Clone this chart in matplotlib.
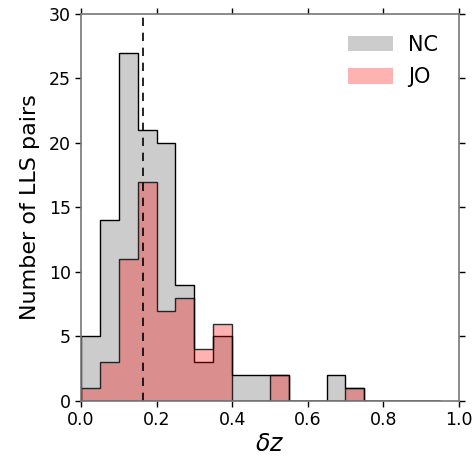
import numpy as np
import matplotlib
matplotlib.use("Agg")
import matplotlib.pyplot as plt

bin_edges = [round(0.05 * i, 2) for i in range(20)]  # 0.00 .. 0.95
nc_counts = [5, 14, 27, 21, 20, 9, 3, 5, 2, 2, 2, 0, 0, 2, 1, 0, 0, 0, 0]
jo_counts = [1, 3, 11, 17, 7, 8, 4, 6, 0, 0, 2, 0, 0, 0, 1, 0, 0, 0, 0]
median_dz = 0.164

fig = plt.figure(figsize=(4.76, 4.63), dpi=100)
ax = fig.add_axes([0.170, 0.134, 0.794, 0.836])

edges = np.array(bin_edges)
centers = (edges[:-1] + edges[1:]) / 2
ax.hist(centers, bins=edges, weights=nc_counts, histtype='stepfilled',
        facecolor='#cccccc', edgecolor='k', linewidth=1.0, label='NC')
ax.hist(centers, bins=edges, weights=jo_counts, histtype='stepfilled',
        facecolor=(1, 0, 0, 0.3), edgecolor=(0, 0, 0, 0.8), linewidth=1.0, label='JO')
ax.axvline(median_dz, color='k', linestyle='--', linewidth=1.2, dashes=(5, 4))

ax.set_xlim(0, 1.0)
ax.set_ylim(0, 30)
ax.set_xticks([0.0, 0.2, 0.4, 0.6, 0.8, 1.0])
ax.set_yticks([0, 5, 10, 15, 20, 25, 30])
ax.tick_params(direction='out', length=4.3, width=1, labelsize=12.5,
               top=True, right=True, color='k', pad=3)
for s in ax.spines.values():
    s.set_color('#777777')
    s.set_linewidth(1.2)

ax.set_xlabel(r'$\delta z$', fontsize=17, labelpad=2)
ax.set_ylabel('Number of LLS pairs', fontsize=16, labelpad=6)

leg = ax.legend(loc='upper right', frameon=False, fontsize=15,
                handlelength=2.2, handleheight=0.8, borderaxespad=0.6,
                labelspacing=0.6, handletextpad=0.7)
for h in leg.legend_handles:
    h.set_edgecolor('none')

fig.savefig('out.png', dpi=100)
